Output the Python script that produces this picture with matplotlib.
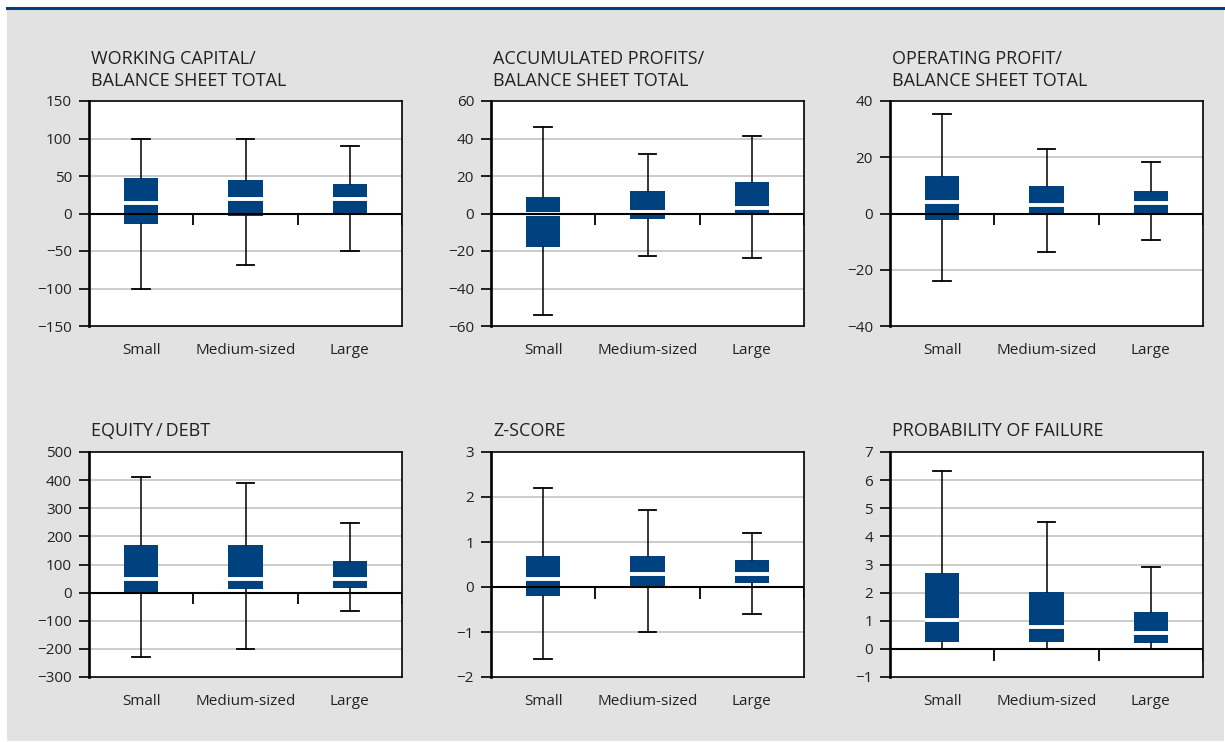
import matplotlib.pyplot as plt
from matplotlib.patches import Rectangle
from matplotlib.lines import Line2D

plt.rcParams['font.family'] = ['Open Sans', 'DejaVu Sans']

BLUE = '#00427f'
GRID = '#c8c8c8'
BG = '#e2e2e2'

categories = ['Small', 'Medium-sized', 'Large']

titles = ['WORKING CAPITAL/\nBALANCE SHEET TOTAL',
          'ACCUMULATED PROFITS/\nBALANCE SHEET TOTAL',
          'OPERATING PROFIT/\nBALANCE SHEET TOTAL',
          'EQUITY\u2009/\u2009DEBT',
          'Z-SCORE',
          'PROBABILITY OF FAILURE']

# box statistics per panel: lower whisker, q1, median, q3, upper whisker
wc_bst = [(-100, -14.5, 14, 47, 100), (-68.7, -3, 19.6, 44.7, 100), (-49.6, 0, 18.9, 39, 90)]
ap_bst = [(-54, -17.7, 0, 8.8, 46), (-22.8, -2.8, 0.8, 12, 32), (-23.9, 0.3, 2.9, 16.8, 41.3)]
op_bst = [(-24, -2.3, 4.1, 13.3, 35.3), (-13.7, -0.2, 3.0, 9.8, 22.9), (-9.4, 0, 3.9, 8, 18.2)]
equity_debt = [(-229, 0, 48, 168, 410), (-200, 14, 50, 168, 389), (-65, 17.5, 48, 111, 246)]
z_score = [(-1.6, -0.19, 0.17, 0.70, 2.21), (-1.0, 0, 0.28, 0.70, 1.71), (-0.6, 0.1, 0.28, 0.61, 1.21)]
prob_failure = [(0, 0.26, 1.01, 2.69, 6.33), (0, 0.26, 0.78, 2.01, 4.5), (0, 0.22, 0.57, 1.31, 2.9)]

panels = [wc_bst, ap_bst, op_bst, equity_debt, z_score, prob_failure]

y_ranges = [(-150, 150, 50), (-60, 60, 20), (-40, 40, 20),
            (-300, 500, 100), (-2, 3, 1), (-1, 7, 1)]

fig = plt.figure(figsize=(12.25, 7.42), dpi=100, facecolor='white')

# grey panel background and blue rule along the top
fig.patches.append(Rectangle((7 / 1225, 1 / 742), 1217 / 1225, 734 / 742,
                             transform=fig.transFigure, facecolor=BG,
                             edgecolor='none', zorder=-10))
fig.lines.append(Line2D([7 / 1225, 1], [1 - 8 / 742, 1 - 8 / 742],
                        transform=fig.transFigure, color=BLUE, lw=2.2,
                        zorder=-5))

lefts = [89, 491, 890]
tops = [101, 452]
w_px, h_px = 313, 225

for i, (stats, title, (lo, hi, step)) in enumerate(zip(panels, titles, y_ranges)):
    row, col = divmod(i, 3)
    ax = fig.add_axes([lefts[col] / 1225, 1 - (tops[row] + h_px) / 742,
                       w_px / 1225, h_px / 742])
    ax.set_facecolor('white')

    bxp_stats = []
    for cat, (wl, q1, med, q3, wh) in zip(categories, stats):
        bxp_stats.append(dict(label=cat, whislo=wl, q1=q1, med=med, q3=q3,
                              whishi=wh, fliers=[]))
    ax.bxp(bxp_stats, positions=[1, 2, 3], widths=0.33, capwidths=0.17,
           patch_artist=True, showfliers=False,
           boxprops=dict(facecolor=BLUE, edgecolor='none', linewidth=0),
           medianprops=dict(color='white', linewidth=2.8),
           whiskerprops=dict(color='black', linewidth=1.1),
           capprops=dict(color='black', linewidth=1.3),
           zorder=3)

    ax.set_xlim(0.5, 3.5)
    ax.set_ylim(lo, hi)
    yvals = [lo + k * step for k in range(int(round((hi - lo) / step)) + 1)]
    ax.set_yticks(yvals)
    ax.set_yticklabels([str(v).replace('-', '\u2212') for v in yvals])
    for v in yvals:
        if lo < v < hi and v != 0:
            ax.axhline(v, color=GRID, lw=1.3, zorder=1)

    # zero line with small separators between the size classes
    ax.axhline(0, color='black', lw=1.5, zorder=4)
    ax.vlines([0.5, 1.5, 2.5, 3.5], 0, -(hi - lo) * 0.052,
              color='black', lw=1.3, zorder=4)

    ax.set_xticks([1, 2, 3])
    ax.set_xticklabels(categories)
    ax.tick_params(axis='x', length=0, pad=12, labelsize=11, colors='#222222')
    ax.tick_params(axis='y', length=7.2, width=1.2, labelsize=11, colors='black',
                   labelcolor='#222222', pad=5)
    for side in ['top', 'right', 'bottom']:
        ax.spines[side].set_linewidth(1.2)
    ax.spines['left'].set_linewidth(1.9)

    ax.text(0.006, 1 + 11.5 / h_px, title, transform=ax.transAxes,
            ha='left', va='bottom', fontsize=13, color='#222222',
            linespacing=1.25)

fig.savefig('out.png', dpi=100, facecolor=fig.get_facecolor())
